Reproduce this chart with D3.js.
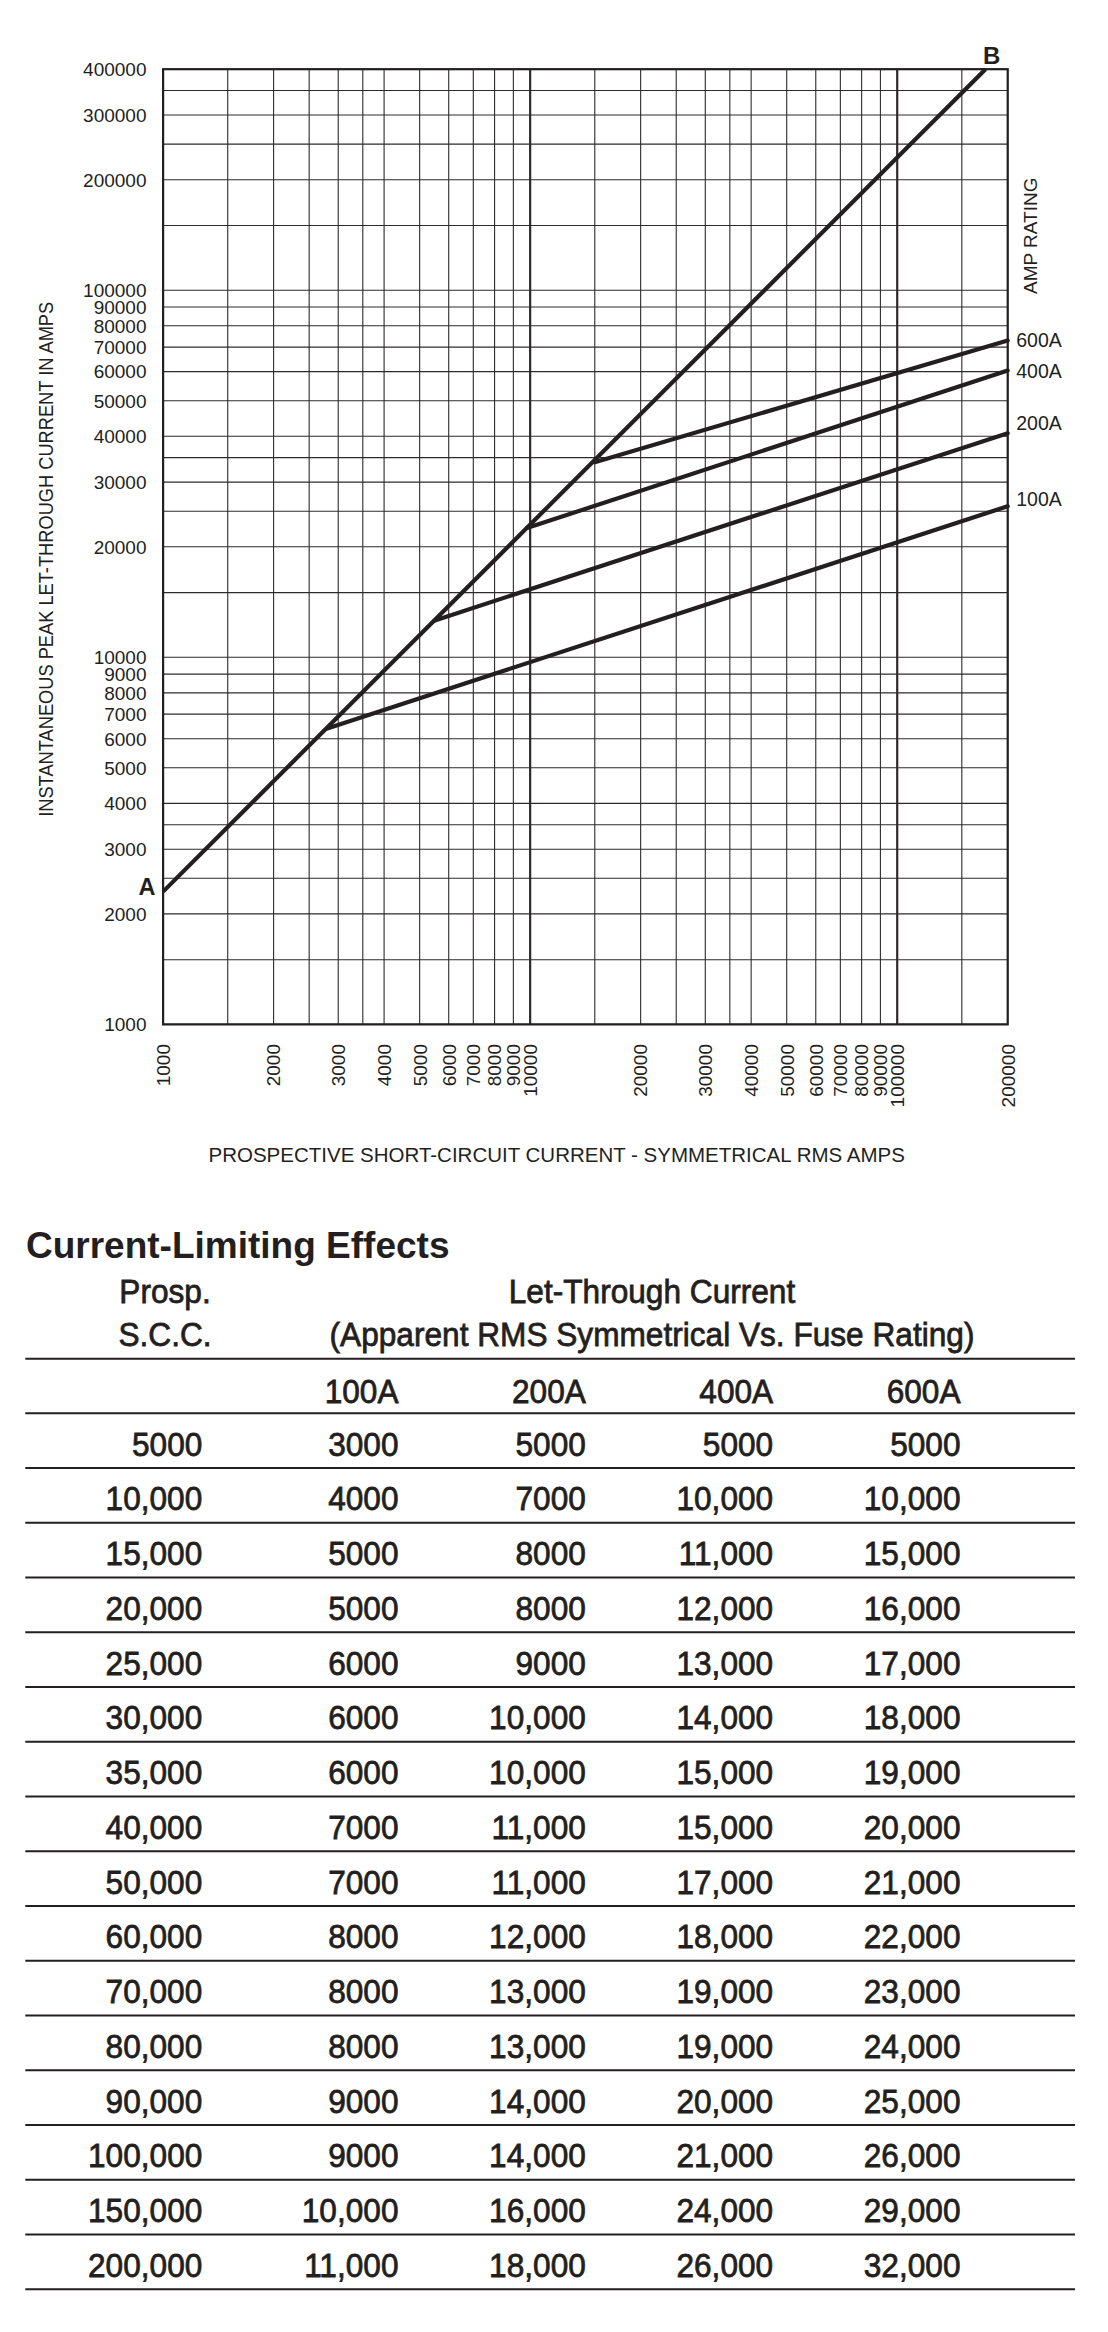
<!DOCTYPE html>
<html>
<head>
<meta charset="utf-8">
<script src="https://cdn.jsdelivr.net/npm/d3@7"></script>
<style>
  html, body { margin: 0; padding: 0; background: #ffffff; }
  svg { display: block; }
  text { font-family: "Liberation Sans", Arial, Helvetica, sans-serif; fill: #231f20; }
</style>
</head>
<body>
<svg id="chart" width="1108" height="2332"></svg>
<script>
// ---------------- DATA ----------------
const xGridValues = [1000,1500,2000,2500,3000,3500,4000,5000,6000,7000,8000,9000,10000,
  15000,20000,25000,30000,35000,40000,50000,60000,70000,80000,90000,100000,150000,200000];
const xHeavyValues = [10000, 100000];
const xTickLabels = [1000,2000,3000,4000,5000,6000,7000,8000,9000,10000,
  20000,30000,40000,50000,60000,70000,80000,90000,100000,200000];
const yGridValues = [1000,1500,2000,2500,3000,3500,4000,5000,6000,7000,8000,9000,10000,
  15000,20000,25000,30000,35000,40000,50000,60000,70000,80000,90000,100000,
  150000,200000,250000,300000,350000,400000];
const yTickLabels = [1000,2000,3000,4000,5000,6000,7000,8000,9000,10000,
  20000,30000,40000,50000,60000,70000,80000,90000,100000,200000,300000,400000];

// threshold line A-B (peak = 2.3 x RMS)
const lineAB = [[1000, 2300], [174000, 400000]];
// fuse amp-rating curves: [prospective RMS, peak let-through]
const ratings = ["100A", "200A", "400A", "600A"];
const curve100A = [[2800, 6400], [200000, 25800]];
const curve200A = [[5500, 12600], [200000, 40800]];
const curve400A = [[9800, 22500], [200000, 60400]];
const curve600A = [[15000, 34000], [200000, 72900]];

// table
const prospSCC = [5000,10000,15000,20000,25000,30000,35000,40000,50000,60000,70000,80000,90000,100000,150000,200000];
const lt100A = [3000,4000,5000,5000,6000,6000,6000,7000,7000,8000,8000,8000,9000,9000,10000,11000];
const lt200A = [5000,7000,8000,8000,9000,10000,10000,11000,11000,12000,13000,13000,14000,14000,16000,18000];
const lt400A = [5000,10000,11000,12000,13000,14000,15000,15000,17000,18000,19000,19000,20000,21000,24000,26000];
const lt600A = [5000,10000,15000,16000,17000,18000,19000,20000,21000,22000,23000,24000,25000,26000,29000,32000];

// ---------------- LAYOUT ----------------
const INK = "#231f20";
const svg = d3.select("#chart");
const plot = { left: 163.1, right: 1007.7, top: 69.2, bottom: 1024.4 };

const x = d3.scaleLog().domain([1000, 200000]).range([plot.left, plot.right]);
const y = d3.scaleLog().domain([1000, 400000]).range([plot.bottom, plot.top]);

const g = svg.append("g");

// grid
g.append("g").selectAll("line").data(yGridValues).join("line")
  .attr("x1", plot.left).attr("x2", plot.right)
  .attr("y1", d => y(d)).attr("y2", d => y(d))
  .attr("stroke", "#2e2a2b").attr("stroke-width", 1.1);
g.append("g").selectAll("line").data(xGridValues).join("line")
  .attr("y1", plot.top).attr("y2", plot.bottom)
  .attr("x1", d => x(d)).attr("x2", d => x(d))
  .attr("stroke", "#2e2a2b")
  .attr("stroke-width", d => xHeavyValues.includes(d) ? 2.2 : 1.1);

// border
g.append("rect")
  .attr("x", plot.left).attr("y", plot.top)
  .attr("width", plot.right - plot.left).attr("height", plot.bottom - plot.top)
  .attr("fill", "none").attr("stroke", INK).attr("stroke-width", 2.2);

// y tick labels
g.append("g").selectAll("text").data(yTickLabels).join("text")
  .attr("x", 146.5).attr("y", d => y(d)).attr("dy", "0.36em")
  .attr("text-anchor", "end").attr("font-size", 19)
  .text(d => d3.format("d")(d));

// x tick labels (rotated)
g.append("g").selectAll("text").data(xTickLabels).join("text")
  .attr("transform", d => `translate(${x(d)},1044) rotate(-90)`)
  .attr("dy", "0.36em")
  .attr("text-anchor", "end").attr("font-size", 19)
  .text(d => d3.format("d")(d));

// axis titles
g.append("text")
  .attr("x", 556.7).attr("y", 1162.3)
  .attr("text-anchor", "middle").attr("font-size", 20.5)
  .text("PROSPECTIVE SHORT-CIRCUIT CURRENT - SYMMETRICAL RMS AMPS");
g.append("text")
  .attr("transform", "translate(53.4,559.3) rotate(-90)")
  .attr("text-anchor", "middle").attr("font-size", 19.5)
  .attr("textLength", 515).attr("lengthAdjust", "spacingAndGlyphs")
  .text("INSTANTANEOUS PEAK LET-THROUGH CURRENT IN AMPS");
g.append("text")
  .attr("transform", "translate(1037.3,235.8) rotate(-90)")
  .attr("text-anchor", "middle").attr("font-size", 19)
  .text("AMP RATING");

// curves
const lineGen = d3.line().x(d => x(d[0])).y(d => y(d[1]));
g.append("path").datum(lineAB)
  .attr("d", lineGen).attr("fill", "none")
  .attr("stroke", INK).attr("stroke-width", 4.2);

const curves = [curve100A, curve200A, curve400A, curve600A];
const labelShift = { "100A": 0, "200A": -3.3, "400A": 7.6, "600A": 6.6 };
curves.forEach((pts, i) => {
  g.append("path").datum(pts)
    .attr("d", lineGen).attr("fill", "none")
    .attr("stroke", INK).attr("stroke-width", 4.2)
    .attr("stroke-linecap", "round").attr("stroke-linejoin", "round");
  const end = pts[pts.length - 1];
  g.append("text")
    .attr("x", x(end[0]) + 8.5).attr("y", y(end[1]) + labelShift[ratings[i]])
    .attr("font-size", 19.5)
    .text(ratings[i]);
});

// A / B labels
g.append("text")
  .attr("x", x(lineAB[0][0]) - 7.7).attr("y", y(lineAB[0][1]) + 3.6)
  .attr("text-anchor", "end").attr("font-size", 23.5).attr("font-weight", "bold")
  .text("A");
g.append("text")
  .attr("x", 983).attr("y", 64.3)
  .attr("font-size", 24).attr("font-weight", "bold")
  .text("B");

// ---------------- TABLE ----------------
const T = svg.append("g");
const SX = 0.93;         // condensed look
const FS = 34;
const tLeft = 25.3, tRight = 1075;
const prospRight = 202.3;
const col = d3.scalePoint().domain(ratings).range([398.5, 960.5]);
const rowBand = d3.scaleBand().domain(d3.range(prospSCC.length))
  .range([1413.3, 1413.3 + 54.75 * prospSCC.length]).padding(0);

function ctext(tx, ty, anchor, str, size) {
  T.append("text")
    .attr("transform", `translate(${tx},${ty}) scale(${SX},1)`)
    .attr("text-anchor", anchor)
    .attr("font-size", size || FS)
    .attr("stroke", INK).attr("stroke-width", 0.8)
    .text(str);
}
const fmt = v => v >= 10000 ? d3.format(",")(v) : String(v);

T.append("text")
  .attr("x", 26).attr("y", 1258.3)
  .attr("font-size", 37).attr("font-weight", "bold")
  .text("Current-Limiting Effects");

ctext(165, 1302.7, "middle", "Prosp.");
ctext(165, 1346, "middle", "S.C.C.");
ctext(652, 1302.7, "middle", "Let-Through Current");
ctext(652, 1346, "middle", "(Apparent RMS Symmetrical Vs. Fuse Rating)");
ratings.forEach(r => ctext(col(r), 1402.7, "end", r));

// rules
const ruleYs = [1358.7, 1413.3].concat(prospSCC.map((d, i) => rowBand(i) + rowBand.bandwidth()));
T.append("g").selectAll("line").data(ruleYs).join("line")
  .attr("x1", tLeft).attr("x2", tRight)
  .attr("y1", d => d).attr("y2", d => d)
  .attr("stroke", INK).attr("stroke-width", 2);

const cols = [lt100A, lt200A, lt400A, lt600A];
prospSCC.forEach((p, i) => {
  const by = rowBand(i) + 42.4;
  ctext(prospRight, by, "end", fmt(p));
  cols.forEach((arr, j) => ctext(col(ratings[j]), by, "end", fmt(arr[i])));
});
</script>
</body>
</html>
